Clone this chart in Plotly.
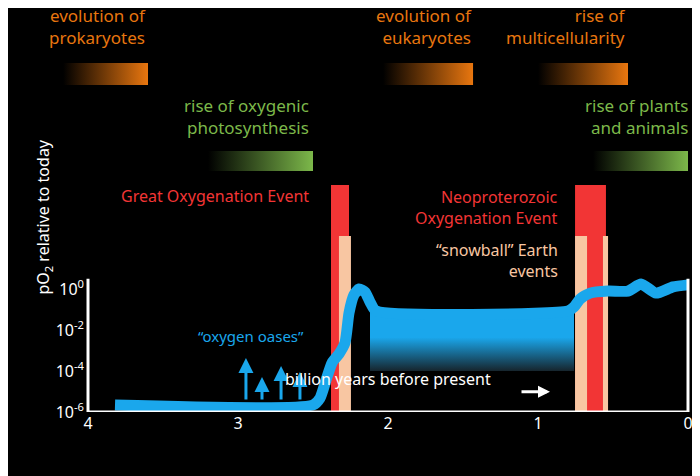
import plotly.graph_objects as go

# ---- data (x: billion years before present, y: log10 pO2 relative to today)
o2_age = [3.82, 2.50, 2.453, 2.413, 2.373, 2.327, 2.287, 2.26, 2.227, 2.193, 2.153, 2.12, 2.08,
          0.80, 0.76, 0.72, 0.653, 0.533, 0.40, 0.313, 0.213, 0.10, 0.0]
o2_log = [-5.66, -5.66, -5.32, -4.44, -3.6, -3.17, -2.63, -1.17, -0.29, 0.0, -0.15, -0.63, -1.07,
          -1.07, -0.88, -0.49, -0.2, -0.1, -0.1, 0.24, -0.2, 0.1, 0.2]
band_age = [2.12, 0.76]
band_log = [-4.0, -1.02]
oasis_age = [2.947, 2.84, 2.713, 2.587]
oasis_tip = [-3.37, -4.29, -3.76, -4.05]
oasis_base = -5.46
goe_age = [2.38, 2.26]
goe_snow_age = [2.327, 2.247]
noe_age = [0.753, 0.547]
noe_snow_ages = [[0.753, 0.673], [0.567, 0.533]]
red_top, peach_top = 5.07, 2.59
x_ticks = [4, 3, 2, 1, 0]
y_ticks = [-6, -4, -2, 0]
y_labels = ["10<sup>-6</sup>", "10<sup>-4</sup>", "10<sup>-2</sup>", "10<sup>0</sup>"]
# evolutionary milestones: (label lines, right edge age, gradient bar age span)
orange_items = [("evolution of<br>prokaryotes", 3.6, [4.166, 3.6]),
                ("evolution of<br>eukaryotes", 1.427, [2.033, 1.433]),
                ("rise of<br>multicellularity", 0.40, [1.0, 0.40])]
green_items = [("rise of oxygenic<br>photosynthesis", 2.513, [3.2, 2.5]),
               ("rise of plants<br>and animals", -0.013, [0.633, 0.0])]

BLUE = "#1aa7ec"; RED = "#f23535"; PEACH = "#f8c6a2"; ORANGE = "#e8760f"; GREEN = "#7cb84a"
FONT = "Noto Sans"
fig = go.Figure()

def rect(x0, x1, y0, y1, color):
    fig.add_trace(go.Scatter(x=[x0, x1, x1, x0, x0], y=[y0, y0, y1, y1, y0], mode="lines",
                             fill="toself", fillcolor=color, line=dict(width=0),
                             hoverinfo="skip", showlegend=False))

def grad_rect(x0, x1, y0, y1, color):
    fig.add_trace(go.Scatter(x=[x0, x1, x1, x0, x0], y=[y0, y0, y1, y1, y0], mode="lines",
                             fill="toself", line=dict(width=0), hoverinfo="skip", showlegend=False,
                             fillgradient=dict(type="horizontal", start=min(x0, x1), stop=max(x0, x1),
                                               colorscale=[[0, color], [1, "rgba(0,0,0,1)"]])))

rect(goe_age[0], goe_age[1], -6, red_top, RED)
rect(goe_snow_age[0], goe_snow_age[1], -6, peach_top, PEACH)
rect(noe_age[0], noe_age[1], -6, red_top, RED)
for a, b in noe_snow_ages:
    rect(a, b, -6, peach_top, PEACH)

# gradient band
fig.add_trace(go.Scatter(x=[band_age[0], band_age[1], band_age[1], band_age[0], band_age[0]],
                         y=[band_log[0], band_log[0], band_log[1], band_log[1], band_log[0]],
                         mode="lines", fill="toself", line=dict(width=0), hoverinfo="skip", showlegend=False,
                         fillgradient=dict(type="vertical", start=band_log[0], stop=band_log[1],
                                           colorscale=[[0, "#16252d"], [0.55, BLUE], [1, BLUE]])))
fig.add_trace(go.Scatter(x=o2_age, y=o2_log, mode="lines", line=dict(color=BLUE, width=11, shape="spline", smoothing=0.6),
                         hoverinfo="skip", showlegend=False))

for text, xr, span in orange_items:
    grad_rect(span[0], span[1], 9.95, 11.02, ORANGE)
    fig.add_annotation(x=xr, y=11.6, text=text, xanchor="right", yanchor="bottom", align="right",
                       showarrow=False, font=dict(color=ORANGE, size=17, family=FONT))
for text, xr, span in green_items:
    grad_rect(span[0], span[1], 5.76, 6.73, GREEN)
    fig.add_annotation(x=xr, y=7.2, text=text, xanchor="right", yanchor="bottom", align="right",
                       showarrow=False, font=dict(color=GREEN, size=17, family=FONT))

fig.add_annotation(x=2.513, y=4.55, text="Great Oxygenation Event", xanchor="right", yanchor="middle",
                   showarrow=False, font=dict(color=RED, size=16, family=FONT))
fig.add_annotation(x=0.853, y=4.0, text="Neoproterozoic<br>Oxygenation Event", xanchor="right", yanchor="middle",
                   align="right", showarrow=False, font=dict(color=RED, size=16, family=FONT))
fig.add_annotation(x=0.853, y=1.4, text="“snowball” Earth<br>events", xanchor="right", yanchor="middle",
                   align="right", showarrow=False, font=dict(color=PEACH, size=16, family=FONT))
fig.add_annotation(x=2.913, y=-2.3, text="“oxygen oases”", showarrow=False,
                   font=dict(color=BLUE, size=15, family=FONT))
for a, t in zip(oasis_age, oasis_tip):
    fig.add_annotation(x=a, y=t, ax=a, ay=oasis_base, axref="x", ayref="y", xref="x", yref="y",
                       text="", showarrow=True, arrowhead=2, arrowsize=1, arrowwidth=3, arrowcolor=BLUE)

# axes frame (left, bottom, right)
for xs, ys in [([4, 4], [0.5, -6]), ([4, 0], [-6, -6]), ([0, 0], [-6, 0.5])]:
    fig.add_shape(type="line", x0=xs[0], x1=xs[1], y0=ys[0], y1=ys[1], line=dict(color="white", width=3))

fig.add_annotation(xref="paper", yref="paper", x=380/700, y=1-452/476, text="billion years before present",
                   showarrow=False, font=dict(color="white", size=16, family=FONT))
fig.add_annotation(xref="paper", yref="paper", x=542/700, y=1-452/476, ax=-30, ay=0,
                   text="", showarrow=True, arrowhead=2, arrowwidth=3,
                   arrowsize=0.8, arrowcolor="white")
fig.add_annotation(xref="paper", yref="paper", x=22/700, y=1-340/476, text="pO<sub>2</sub> relative to today",
                   textangle=-90, showarrow=False, font=dict(color="white", size=16, family=FONT))

fig.update_layout(
    width=700, height=476, paper_bgcolor="black", plot_bgcolor="black",
    margin=dict(l=0, r=0, t=0, b=72), showlegend=False,
    xaxis=dict(range=[680/150, -20/150], showgrid=False, zeroline=False, showline=False,
               tickvals=x_ticks, ticktext=[str(v) for v in x_ticks], ticks="",
               tickfont=dict(color="white", size=16, family=FONT)),
    yaxis=dict(range=[-6, -6 + 404/20.5], showgrid=False, zeroline=False, showline=False,
               anchor="free", position=76/700, tickvals=y_ticks, ticktext=y_labels, ticks="",
               tickfont=dict(color="white", size=16, family=FONT)),
)
fig.write_html("out.html")
